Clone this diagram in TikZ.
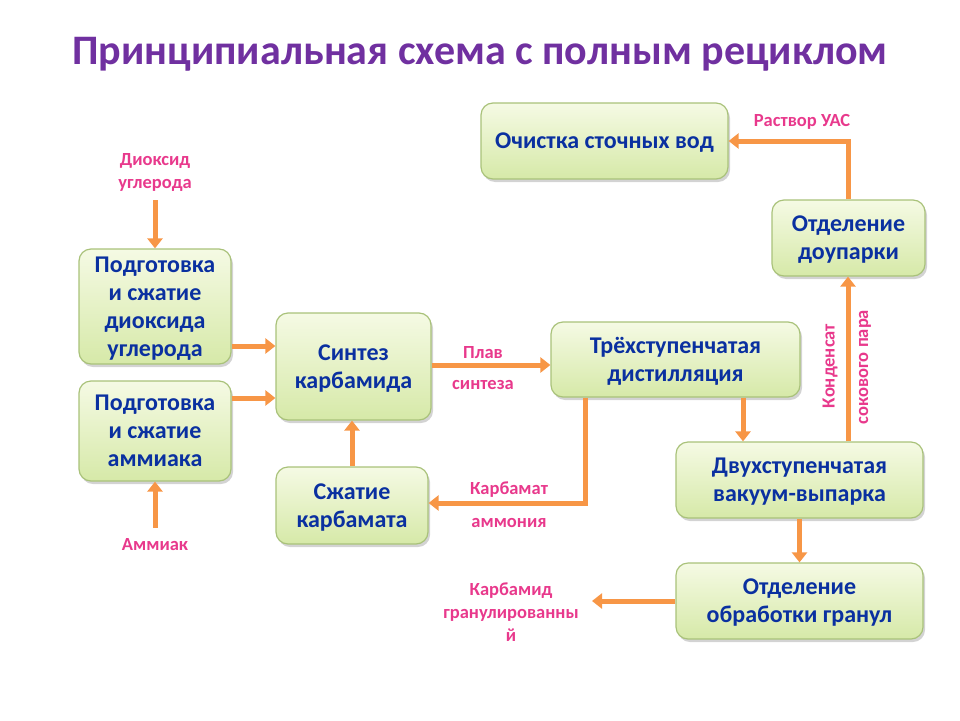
\documentclass[tikz,border=0pt]{standalone}
\usepackage{fontspec}
\setmainfont{Carlito}
\usetikzlibrary{arrows.meta,shadows}
\definecolor{boxline}{HTML}{A9C27A}
\definecolor{boxtop}{HTML}{F5FAE4}
\definecolor{boxbot}{HTML}{D6E9A8}
\definecolor{boxtext}{HTML}{0A30A0}
\definecolor{flowcol}{HTML}{F79646}
\definecolor{lblcol}{HTML}{E8398C}
\definecolor{titlecol}{HTML}{7030A0}
\tikzset{
  proc/.style={draw=boxline, line width=1.2pt, rounded corners=12pt,
    top color=boxtop, bottom color=boxbot,
    drop shadow={shadow xshift=2pt, shadow yshift=-3pt, opacity=0.35},
    align=center, inner sep=0pt, text=boxtext, text depth=-9.5pt,
    font=\fontsize{24}{28}\selectfont\bfseries},
  flow/.style={draw=flowcol, line width=5pt,
    -{Triangle[length=10pt,width=15pt]}},
  lbl/.style={text=lblcol, align=center, inner sep=0pt,
    font=\fontsize{18.5}{23}\selectfont\bfseries}
}
\begin{document}
\begin{tikzpicture}[x=1pt,y=-1pt]
    \useasboundingbox (0,0) rectangle (960,720);
    \node [text=titlecol, font=\fontsize{42}{46}\selectfont\bfseries] (T) at (480,54)
      {Принципиальная схема с полным рециклом};
    % boxes
    \node [proc, minimum width=247pt, minimum height=76pt] (A0_2) at (604.5,141) {Очистка сточных вод};
    \node [proc, minimum width=153pt, minimum height=76pt] (A0_3) at (848.5,238) {Отделение\\доупарки};
    \node [proc, minimum width=152pt, minimum height=115pt] (A1_0) at (155,306.5) {Подготовка\\и сжатие\\диоксида\\углерода};
    \node [proc, minimum width=155pt, minimum height=107pt] (A1_1) at (353.5,366.5) {Синтез\\карбамида};
    \node [proc, minimum width=249pt, minimum height=75pt] (A1_2) at (675.5,359.5) {Трёхступенчатая\\дистилляция};
    \node [proc, minimum width=152pt, minimum height=100pt] (A2_0) at (155,431) {Подготовка\\и сжатие\\аммиака};
    \node [proc, minimum width=152pt, minimum height=77pt] (A2_1) at (352,505.5) {Сжатие\\карбамата};
    \node [proc, minimum width=247pt, minimum height=76pt] (A2_3) at (799.5,480) {Двухступенчатая\\вакуум-выпарка};
    \node [proc, minimum width=247pt, minimum height=76pt] (A3_3) at (799.5,601) {Отделение\\обработки гранул};
    % labels
    \node [lbl] (L_co2) at (155,172) {Диоксид\\углерода};
    \node [lbl] (L_nh3) at (155,545) {Аммиак};
    \node [lbl] (L_plav) at (483,368) {Плав\\[8pt]синтеза};
    \node [lbl] (L_karb) at (509,505) {Карбамат\\[10pt]аммония};
    \node [lbl] (L_uas) at (802,122) {Раствор УАС};
    \node [lbl, rotate=90] (L_kond) at (830,366) {Конденсат};
    \node [lbl, rotate=90] (L_sok) at (865,367) {сокового пара};
    \node [lbl] (L_gran) at (511,612) {Карбамид\\гранулированны\\й};
    \coordinate (co2in) at (155,200);
    \coordinate (nh3in) at (155,528);
    \coordinate (granout) at (592,601);
    % flows
    \draw [flow] (co2in) -- (A1_0.north);
    \draw [flow] (nh3in) -- (A2_0.south);
    \draw [flow] (A1_0.east |- 0,346) -- (A1_1.west |- 0,346);
    \draw [flow] (A2_0.east |- 0,398) -- (A1_1.west |- 0,398);
    \draw [flow] (A2_1.north) -- (A2_1.north |- A1_1.south);
    \draw [flow] (A1_1.east |- 0,365) -- (A1_2.west |- 0,365);
    \draw [flow] (A1_2.south -| 585,0) |- (A2_1.east |- 0,503);
    \draw [flow] (A1_2.south -| 743,0) -- (A2_3.north -| 743,0);
    \draw [flow] (A2_3.north -| 848,0) -- (A0_3.south -| 848,0);
    \draw [flow] (A0_3.north -| 848,0) |- (A0_2.east);
    \draw [flow] (A2_3.south) -- (A3_3.north);
    \draw [flow] (A3_3.west) -- (granout);
\end{tikzpicture}
\end{document}
